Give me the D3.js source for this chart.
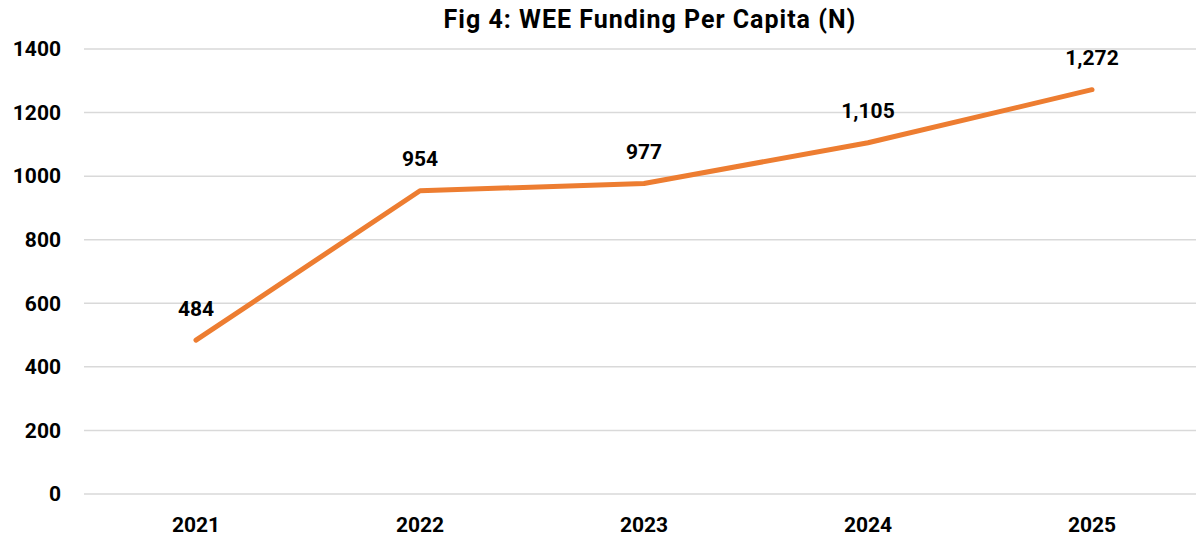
<!DOCTYPE html>
<html>
<head>
<meta charset="utf-8">
<script src="https://cdn.jsdelivr.net/npm/d3@7"></script>
<style>
  body { margin: 0; background: #fff; }
  svg text { font-family: Roboto, "Noto Sans", sans-serif; font-weight: 700; fill: #000; }
</style>
</head>
<body>
<svg id="chart" width="1196" height="537"></svg>
<script>
var years = ["2021", "2022", "2023", "2024", "2025"];
var funding = [484, 954, 977, 1105, 1272];
var yTicks = [0, 200, 400, 600, 800, 1000, 1200, 1400];
var title = "Fig 4: WEE Funding Per Capita (N)";

var svg = d3.select("#chart"),
  margin = {top: 49, right: 0, bottom: 43, left: 84},
  width = 1120,
  height = +svg.attr("height") - margin.top - margin.bottom;

var g = svg.append("g").attr("transform", "translate(" + margin.left + "," + margin.top + ")");

var x = d3.scaleBand()
  .domain(years)
  .range([0, width]);

var y = d3.scaleLinear()
  .domain([0, 1400])
  .range([height, 0]);

// gridlines
g.append("g")
  .selectAll("line")
  .data(yTicks).enter()
  .append("line")
  .attr("x1", 0)
  .attr("x2", 1196 - margin.left)
  .attr("y1", d => y(d))
  .attr("y2", d => y(d))
  .attr("stroke", "#d9d9d9")
  .attr("stroke-width", 1.5);

// y labels
g.append("g")
  .selectAll("text")
  .data(yTicks).enter()
  .append("text")
  .attr("x", -23)
  .attr("y", d => y(d))
  .attr("dy", "0.35em")
  .attr("text-anchor", "end")
  .style("font-size", "21px")
  .text(d => d);

// x labels
g.append("g")
  .selectAll("text")
  .data(years).enter()
  .append("text")
  .attr("x", d => x(d) + x.bandwidth() / 2)
  .attr("y", height + 31)
  .attr("dy", "0.35em")
  .attr("text-anchor", "middle")
  .style("font-size", "21px")
  .text(d => d);

var pts = years.map((d, i) => ({year: d, value: funding[i]}));

var line = d3.line()
  .x(d => x(d.year) + x.bandwidth() / 2)
  .y(d => y(d.value));

g.append("path")
  .datum(pts)
  .attr("d", line)
  .attr("fill", "none")
  .attr("stroke", "#ED7D31")
  .attr("stroke-width", 5)
  .attr("stroke-linecap", "round")
  .attr("stroke-linejoin", "round");

// data labels
g.append("g")
  .selectAll("text")
  .data(pts).enter()
  .append("text")
  .attr("x", d => x(d.year) + x.bandwidth() / 2)
  .attr("y", d => y(d.value) - 32)
  .attr("dy", "0.35em")
  .attr("text-anchor", "middle")
  .style("font-size", "21px")
  .text(d => d3.format(",")(d.value));

svg.append("text")
  .attr("x", 650)
  .attr("y", 19)
  .attr("dy", "0.35em")
  .attr("text-anchor", "middle")
  .style("font-size", "25px")
  .style("letter-spacing", "1px")
  .text(title);
</script>
</body>
</html>
